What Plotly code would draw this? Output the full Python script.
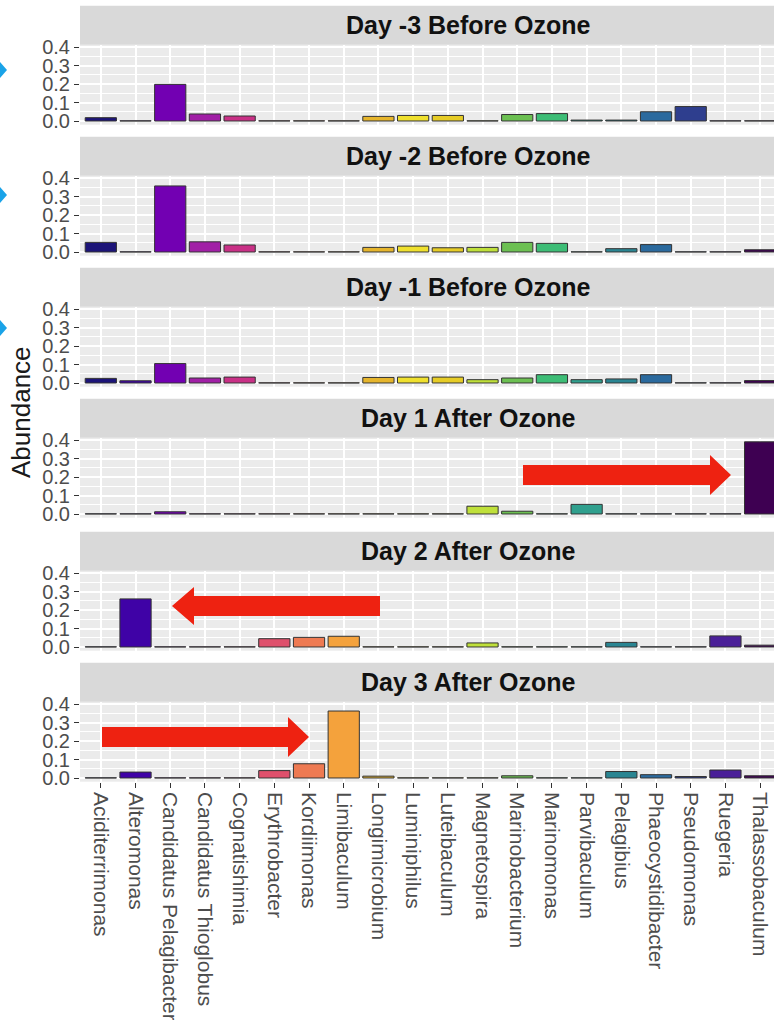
import plotly.graph_objects as go

# Genera on the x axis (same order in every panel)
genera = [
    "Aciditerrimonas", "Alteromonas", "Candidatus Pelagibacter", "Candidatus Thioglobus",
    "Cognatishimia", "Erythrobacter", "Kordiimonas", "Limibaculum", "Longimicrobium",
    "Luminiphilus", "Luteibaculum", "Magnetospira", "Marinobacterium", "Marinomonas",
    "Parvibaculum", "Pelagibius", "Phaeocystidibacter", "Pseudomonas", "Ruegeria",
    "Thalassobaculum",
]

# Fill colour of each genus
genus_colors = [
    "#1c1478", "#3f02a6", "#7200b2", "#a11fa6", "#c93086", "#df506c", "#ee7a52",
    "#f4a23c", "#e6b52c", "#efe02e", "#e6cc26", "#bfe03a", "#6cc052", "#3dbd76",
    "#30a08e", "#2a8592", "#2b6a9e", "#2e3e8e", "#4a1f98", "#3e0052",
]

# Facet titles
days = [
    "Day -3 Before Ozone", "Day -2 Before Ozone", "Day -1 Before Ozone",
    "Day 1 After Ozone", "Day 2 After Ozone", "Day 3 After Ozone",
]

# Relative abundance per genus, one list per sampling day
day_m3 = [0.018, 0.001, 0.198, 0.038, 0.027, 0.001, 0.001, 0.001, 0.025, 0.030,
          0.030, 0.001, 0.035, 0.040, 0.005, 0.005, 0.050, 0.078, 0.001, 0.001]
day_m2 = [0.052, 0.001, 0.357, 0.055, 0.038, 0.001, 0.001, 0.001, 0.025, 0.032,
          0.023, 0.025, 0.052, 0.047, 0.001, 0.018, 0.040, 0.001, 0.001, 0.012]
day_m1 = [0.025, 0.012, 0.105, 0.027, 0.032, 0.001, 0.001, 0.001, 0.030, 0.032,
          0.032, 0.018, 0.027, 0.045, 0.018, 0.022, 0.045, 0.001, 0.001, 0.013]
day_p1 = [0.001, 0.001, 0.012, 0.001, 0.001, 0.001, 0.001, 0.001, 0.001, 0.001,
          0.001, 0.042, 0.015, 0.001, 0.052, 0.001, 0.001, 0.001, 0.001, 0.390]
day_p2 = [0.001, 0.260, 0.001, 0.001, 0.001, 0.045, 0.052, 0.058, 0.001, 0.001,
          0.001, 0.022, 0.001, 0.001, 0.001, 0.025, 0.001, 0.001, 0.060, 0.010]
day_p3 = [0.001, 0.032, 0.001, 0.001, 0.001, 0.040, 0.077, 0.362, 0.010, 0.001,
          0.001, 0.001, 0.012, 0.001, 0.001, 0.035, 0.018, 0.008, 0.043, 0.012]
abundance = [day_m3, day_m2, day_m1, day_p1, day_p2, day_p3]

y_ticks = [0.0, 0.1, 0.2, 0.3, 0.4]
y_tick_text = ["0.0", "0.1", "0.2", "0.3", "0.4"]

# ---- page geometry (pixels) ----
W, H = 774, 1020
FONT = "Liberation Sans, Arial, sans-serif"
PANEL_LEFT = 80
ZERO_ROWS = [121, 252, 383, 514, 647, 778]   # pixel row of y = 0 in each panel
PX_PER_UNIT = 185.0
Y_RANGE = [-0.02, 0.412]
STRIP_H = 39
TITLE_X = 468


def fx(px):
    return px / W


def fy(py):
    return 1 - py / H


def poly(points):
    return "M " + " L ".join(f"{fx(x):.5f},{fy(y):.5f}" for x, y in points) + " Z"


fig = go.Figure()
layout = dict(
    width=W, height=H,
    margin=dict(l=0, r=0, t=0, b=0, pad=0),
    paper_bgcolor="white",
    plot_bgcolor="#ebebeb",
    showlegend=False,
    font=dict(family=FONT),
    shapes=[], annotations=[],
)

n = len(days)
for i, (title, values) in enumerate(zip(days, abundance)):
    k = "" if i == 0 else str(i + 1)
    zero = ZERO_ROWS[i]
    top = zero - Y_RANGE[1] * PX_PER_UNIT
    bottom = zero - Y_RANGE[0] * PX_PER_UNIT
    last = i == n - 1

    fig.add_trace(go.Bar(
        x=genera, y=values, width=0.9,
        marker=dict(color=genus_colors, line=dict(color="#333333", width=1)),
        xaxis="x" + k, yaxis="y" + k,
        hoverinfo="x+y",
    ))

    layout["xaxis" + k] = dict(
        domain=[fx(PANEL_LEFT), 1], anchor="y" + k,
        type="category", categoryorder="array", categoryarray=genera,
        range=[-0.6, 19.4],
        automargin=False,
        showgrid=True, gridcolor="white", gridwidth=1.5,
        zeroline=False, showline=False,
        showticklabels=last, tickangle=90,
        ticks="outside" if last else "", ticklen=5, tickcolor="#333333",
        tickfont=dict(size=21, color="#4d4d4d", family=FONT),
        fixedrange=True,
    )
    layout["yaxis" + k] = dict(
        domain=[fy(bottom), fy(top)], anchor="x" + k,
        range=Y_RANGE,
        automargin=False,
        tickvals=y_ticks, ticktext=y_tick_text,
        showgrid=True, gridcolor="white", gridwidth=1.5,
        minor=dict(tick0=0.05, dtick=0.1, showgrid=True, gridcolor="white", gridwidth=0.8),
        zeroline=False, showline=False,
        ticks="outside", ticklen=5, tickcolor="#333333",
        tickfont=dict(size=20, color="#4d4d4d", family=FONT),
        fixedrange=True,
    )

    # facet strip
    layout["shapes"].append(dict(
        type="rect", xref="paper", yref="paper",
        x0=fx(PANEL_LEFT), x1=1, y0=fy(top), y1=fy(top - STRIP_H),
        fillcolor="#d9d9d9", line=dict(width=0), layer="below",
    ))
    layout["annotations"].append(dict(
        text=f"<b>{title}</b>", xref="paper", yref="paper",
        x=fx(TITLE_X), y=fy(top - STRIP_H / 2), xanchor="center", yanchor="middle",
        showarrow=False, font=dict(size=25, color="#111111", family=FONT),
    ))

# y axis title
layout["annotations"].append(dict(
    text="Abundance", xref="paper", yref="paper",
    x=fx(21), y=fy(412), xanchor="center", yanchor="middle", textangle=-90,
    showarrow=False, font=dict(size=26, color="#1a1a1a", family=FONT),
))

# red callout arrows
RED = "#ee2211"
red_arrows = [
    [(523, 465), (710, 465), (710, 455), (731, 475), (710, 495), (710, 485), (523, 485)],
    [(172, 606), (194, 587), (194, 596), (380, 596), (380, 616), (194, 616), (194, 625)],
    [(102, 727), (288, 727), (288, 717), (309, 737), (288, 757), (288, 747), (102, 747)],
]
for pts in red_arrows:
    layout["shapes"].append(dict(
        type="path", xref="paper", yref="paper", path=poly(pts),
        fillcolor=RED, line=dict(width=0), layer="above",
    ))

# blue arrow tips at the left edge
BLUE = "#1aa3e8"
for cy in (70, 195, 328):
    layout["shapes"].append(dict(
        type="path", xref="paper", yref="paper",
        path=poly([(0, cy - 8), (7, cy), (0, cy + 8)]),
        fillcolor=BLUE, line=dict(width=0), layer="above",
    ))

fig.update_layout(**layout)
fig.write_html("out.html")
